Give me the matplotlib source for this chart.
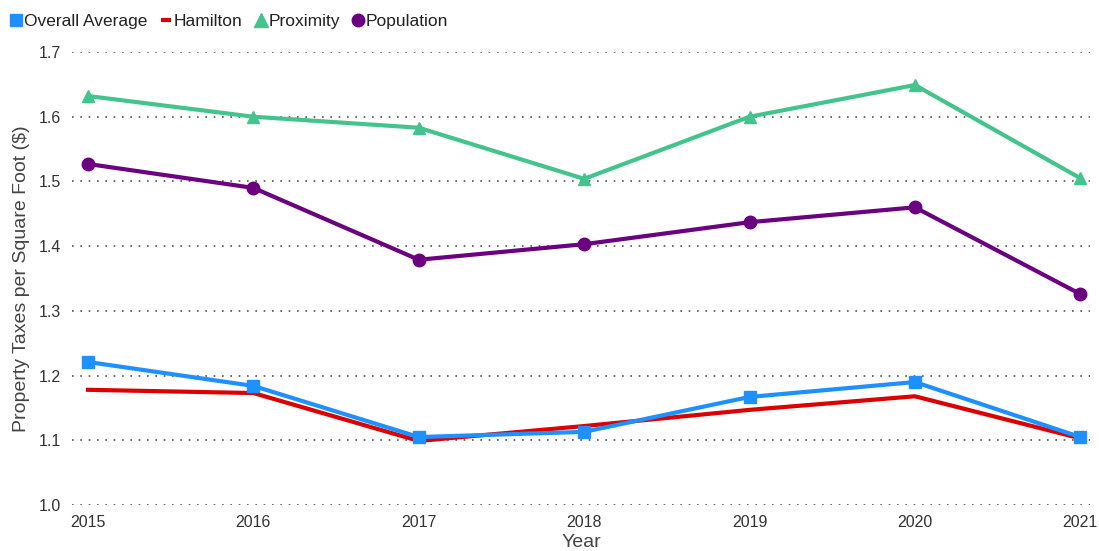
import matplotlib
matplotlib.use("Agg")
import matplotlib.pyplot as plt
from matplotlib.lines import Line2D

plt.rcParams['font.family'] = ['Liberation Sans', 'DejaVu Sans']

years = [2015, 2016, 2017, 2018, 2019, 2020, 2021]
overall = [1.221, 1.184, 1.105, 1.113, 1.167, 1.190, 1.105]
hamilton = [1.178, 1.173, 1.099, 1.122, 1.147, 1.168, 1.103]
proximity = [1.632, 1.600, 1.583, 1.504, 1.600, 1.649, 1.505]
population = [1.527, 1.490, 1.379, 1.403, 1.437, 1.460, 1.326]

c_blue = '#1E90FF'
c_red = '#DD0000'
c_green = '#44C48D'
c_purple = '#6B0080'

fig = plt.figure(figsize=(10.99, 5.51), dpi=100)
ax = fig.add_axes([0.0655, 0.0835, 0.9265, 0.8221])

ax.plot(years, proximity, color=c_green, lw=3, marker='^', ms=9, zorder=3)
ax.plot(years, population, color=c_purple, lw=3, marker='o', ms=9, zorder=3)
ax.plot(years, hamilton, color=c_red, lw=3, zorder=3)
ax.plot(years, overall, color=c_blue, lw=3, marker='s', ms=9, zorder=4)

ax.set_xlim(2014.903, 2021.06)
ax.set_ylim(1.0, 1.7)
ax.set_yticks([1.0, 1.1, 1.2, 1.3, 1.4, 1.5, 1.6, 1.7])
ax.set_yticklabels(['1.0', '1.1', '1.2', '1.3', '1.4', '1.5', '1.6', '1.7'])
ax.set_xticks(years)
ax.set_xticklabels([str(y) for y in years])
ax.grid(axis='y', linestyle=(0, (1, 4)), color='#555555', lw=1.2)
ax.grid(axis='x', visible=False)
for s in ax.spines.values():
    s.set_visible(False)
ax.tick_params(axis='both', length=0, labelcolor='#333333')
ax.tick_params(axis='y', labelsize=11.5, pad=8)
ax.tick_params(axis='x', labelsize=11.5, pad=7)
ax.set_ylabel('Property Taxes per Square Foot ($)', fontsize=14, color='#444444', labelpad=6)
ax.set_xlabel('Year', fontsize=14, color='#444444', labelpad=3)

handles = [
    Line2D([], [], color=c_blue, marker='s', ls='none', ms=9),
    Line2D([], [], color=c_red, marker='_', ls='none', ms=7, mew=3),
    Line2D([], [], color=c_green, marker='^', ls='none', ms=10),
    Line2D([], [], color=c_purple, marker='o', ls='none', ms=9),
]
labels = ['Overall Average', 'Hamilton', 'Proximity', 'Population']
leg = fig.legend(handles, labels, loc='upper left', bbox_to_anchor=(-0.004, 1.003), ncol=4,
                 frameon=False, fontsize=12.5, handlelength=0.6, handletextpad=0.15,
                 columnspacing=0.75)
for t in leg.get_texts():
    t.set_color('#222222')

fig.savefig('out.png', dpi=100)
